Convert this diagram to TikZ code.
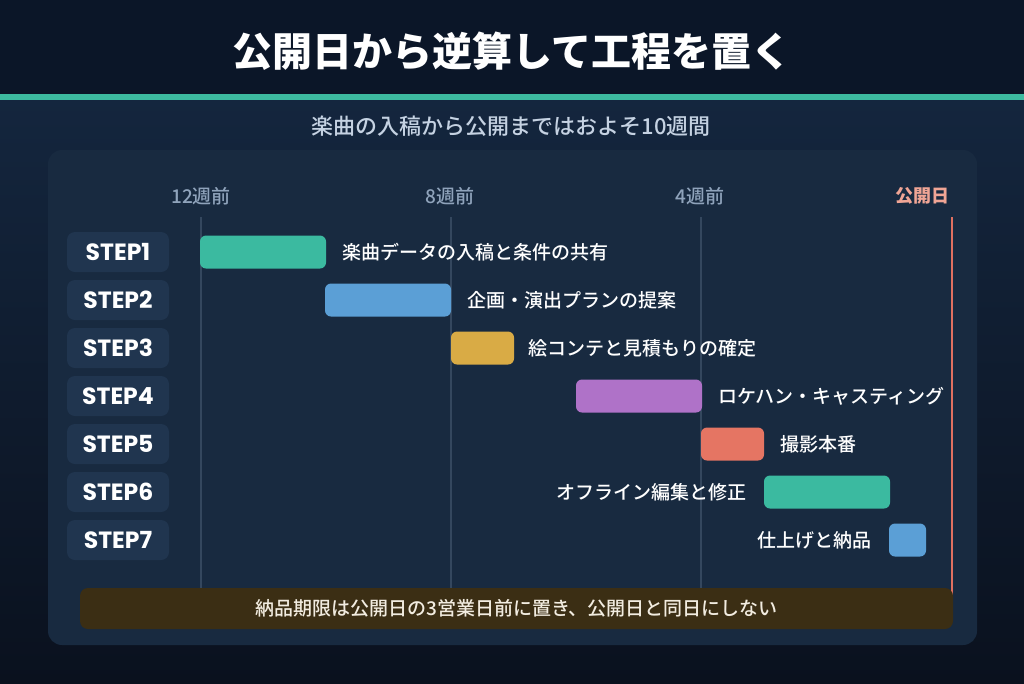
\documentclass[tikz,border=0pt]{standalone}
\usepackage{fontspec}
\setmainfont{Noto Sans CJK JP}
\newfontfamily\medfont{Noto Sans CJK JP}[UprightFont=* Medium, BoldFont=* Bold]
\newfontfamily\stepfont{Poppins}
\definecolor{hdr}{HTML}{0B1628}
\definecolor{bgtop}{HTML}{14263E}
\definecolor{bgbot}{HTML}{0A111E}
\definecolor{panel}{HTML}{182A40}
\definecolor{stepbg}{HTML}{20354F}
\definecolor{accent}{HTML}{3DBAA0}
\definecolor{subt}{HTML}{C5D2E2}
\definecolor{axis}{HTML}{8FA3BB}
\definecolor{grid}{HTML}{34475E}
\definecolor{redl}{HTML}{E07060}
\definecolor{redtxt}{HTML}{F0A595}
\definecolor{cteal}{HTML}{3BBAA0}
\definecolor{cblue}{HTML}{5B9FD6}
\definecolor{cyel}{HTML}{D9AB45}
\definecolor{cpur}{HTML}{AF72C8}
\definecolor{csal}{HTML}{E57563}
\definecolor{notebg}{HTML}{3B2E14}
\definecolor{notetxt}{HTML}{F2ECE0}
\tikzset{
  stepbox/.style={fill=stepbg, rounded corners=8pt, minimum width=102pt, minimum height=40pt, inner sep=0pt, text=white, font=\stepfont\bfseries\fontsize{23.5}{26}\selectfont},
  barbox/.style={rounded corners=6pt, minimum height=33pt, inner sep=0pt},
  tasklbl/.style={inner sep=0pt, text=white, font=\medfont\fontsize{19}{22}\selectfont},
  axlbl/.style={inner sep=0pt, text=axis, font=\medfont\fontsize{19}{22}\selectfont},
  gridline/.style={draw=grid, line width=1.5pt}
}
\begin{document}
\begin{tikzpicture}[x=1pt,y=-1pt]
\useasboundingbox (0,0) rectangle (1024,683);
% backgrounds
\shade[top color=bgtop, bottom color=bgbot] (0,97) rectangle (1024,683);
\fill[hdr] (0,0) rectangle (1024,94);
\fill[accent] (0,94) rectangle (1024,100);
\node[inner sep=0pt, text=white, font=\bfseries\fontsize{40}{48}\selectfont] (title) at (512,51) {公開日から逆算して工程を置く};
\node[inner sep=0pt, text=subt, font=\medfont\fontsize{22}{26}\selectfont] (subtitle) at (511,126) {楽曲の入稿から公開まではおよそ10週間};
% panel
\fill[panel, rounded corners=14pt] (48,150) rectangle (977,645);
% axis
\coordinate (g12t) at (201,217); \coordinate (g12b) at (201,588);
\coordinate (g8t) at (451,217); \coordinate (g8b) at (451,588);
\coordinate (g4t) at (701,217); \coordinate (g4b) at (701,588);
\coordinate (g0t) at (952,217); \coordinate (g0b) at (952,600);
\draw[gridline] (g12t) -- (g12b);
\draw[gridline] (g8t) -- (g8b);
\draw[gridline] (g4t) -- (g4b);
\draw[draw=redl, line width=2.5pt] (g0t) -- (g0b);
\node[axlbl] (a12) at (201,196) {12週前};
\node[axlbl] (a8) at (450,196) {8週前};
\node[axlbl] (a4) at (700,196) {4週前};
\node[axlbl, text=redtxt, font=\bfseries\fontsize{18}{22}\selectfont, anchor=east] (a0) at (950,196) {公開日};
% steps
\node[stepbox] (s1) at (118,252) {STEP1};
\node[stepbox] (s2) at (118,300) {STEP2};
\node[stepbox] (s3) at (118,348) {STEP3};
\node[stepbox] (s4) at (118,396) {STEP4};
\node[stepbox] (s5) at (118,444) {STEP5};
\node[stepbox] (s6) at (118,492) {STEP6};
\node[stepbox] (s7) at (118,540) {STEP7};
% bars
\node[barbox, fill=cteal, minimum width=126pt] (b1) at (263,252) {};
\node[barbox, fill=cblue, minimum width=126pt] (b2) at (388,300) {};
\node[barbox, fill=cyel, minimum width=63pt] (b3) at (482.5,348) {};
\node[barbox, fill=cpur, minimum width=126pt] (b4) at (639,396) {};
\node[barbox, fill=csal, minimum width=63pt] (b5) at (732.5,444) {};
\node[barbox, fill=cteal, minimum width=126pt] (b6) at (827,492) {};
\node[barbox, fill=cblue, minimum width=37pt] (b7) at (907.5,540) {};
% labels
\node[tasklbl, anchor=west] (l1) at ([xshift=16pt]b1.east) {楽曲データの入稿と条件の共有};
\node[tasklbl, anchor=west] (l2) at ([xshift=16pt]b2.east) {企画・演出プランの提案};
\node[tasklbl, anchor=west] (l3) at ([xshift=14pt]b3.east) {絵コンテと見積もりの確定};
\node[tasklbl, anchor=west] (l4) at ([xshift=16pt]b4.east) {ロケハン・キャスティング};
\node[tasklbl, anchor=west] (l5) at ([xshift=16pt]b5.east) {撮影本番};
\node[tasklbl, anchor=east] (l6) at ([xshift=-17pt]b6.west) {オフライン編集と修正};
\node[tasklbl, anchor=east] (l7) at ([xshift=-17pt]b7.west) {仕上げと納品};
% note
\node[fill=notebg, rounded corners=8pt, minimum width=873pt, minimum height=41pt, inner sep=0pt] (note) at (516.5,608.5) {};
\node[inner sep=0pt, text=notetxt, font=\medfont\fontsize{19}{22}\selectfont] (notetext) at (note.center) {納品期限は公開日の3営業日前に置き、公開日と同日にしない};
\end{tikzpicture}
\end{document}
